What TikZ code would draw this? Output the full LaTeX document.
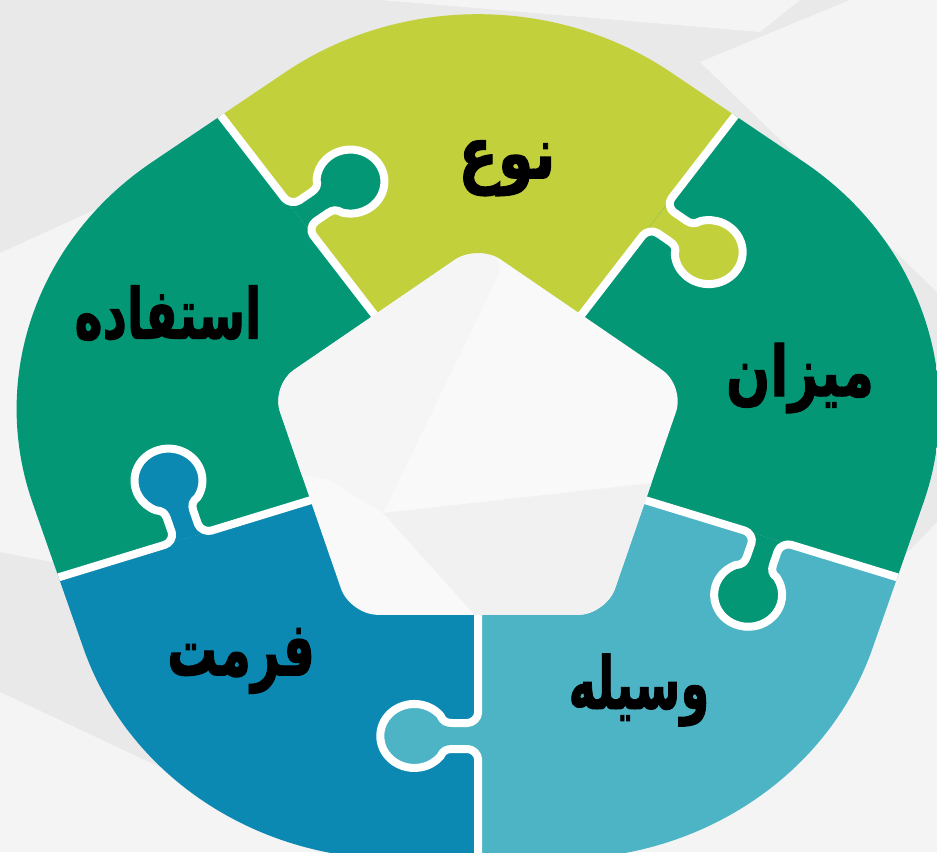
\documentclass[tikz,border=0pt]{standalone}
\usepackage{fontspec}
\newfontfamily\arabicfont[Script=Arabic,FakeBold=1.6]{DejaVu Sans Bold}
\TeXXeTstate=1
\definecolor{cyel}{RGB}{194,208,60}
\definecolor{cgrn}{RGB}{4,151,118}
\definecolor{cblu}{RGB}{12,137,178}
\definecolor{clbl}{RGB}{76,180,197}
\definecolor{bggray}{RGB}{233,233,233}
\definecolor{bglite}{RGB}{244,244,244}
\definecolor{pentA}{RGB}{249,249,249}
\definecolor{pentB}{RGB}{245,245,245}
\definecolor{pentC}{RGB}{241,241,241}
\newcommand{\outerpath}{(413.52,-54.14) arc[start angle=-18,end angle=54,radius=305] -- (179.28,376.55) arc[start angle=54,end angle=126,radius=305] -- (-302.73,286.86) arc[start angle=126,end angle=198,radius=305] -- (-366.37,-199.26) arc[start angle=198,end angle=270,radius=305] -- (76.30,-410.01) arc[start angle=270,end angle=342,radius=305] -- cycle}
% knob: centre (287,-60), radius 32, neck half-width 13
\newcommand{\knobbody}{.. controls (268.5,0) and (274,-4.5) .. (274,-10) -- (274,-24) .. controls (274,-30) and (272.3,-33.1) .. (266.4,-35.5) arc[start angle=130,end angle=410,radius=32] .. controls (301.7,-33.1) and (300,-30) .. (300,-24) -- (300,-10) .. controls (300,-4.5) and (305.5,0) .. (310,0)}
\newcommand{\knobline}{(150,0) -- (264,0) \knobbody -- (470,0)}
\newcommand{\knobfill}{(264,0) \knobbody -- cycle}
\newcommand{\pentpath}{(90:205) -- (162:205) -- (234:205) -- (306:205) -- (18:205) -- cycle}
\tikzset{
  divider/.style={draw=white,line width=8pt,line join=round},
  word/.style={font=\arabicfont\fontsize{50}{60}\selectfont,text=black,inner sep=0pt},
}
\newcommand{\puzzlejoint}[2]{%
  \begin{scope}[rotate=#1]
    \fill[#2] \knobfill;
    \path[divider] \knobline;
  \end{scope}}
\begin{document}
\begin{tikzpicture}[x=1pt,y=1pt]
\useasboundingbox (0,0) rectangle (937,852);
% background
\fill[bggray] (0,0) rectangle (937,852);
\fill[bglite] (0,599) -- (110,649) -- (260,700) -- (260,250) -- (0,300) -- cycle;
\fill[bglite] (0,0) -- (0,160) -- (340,0) -- cycle;
\fill[bglite] (937,0) -- (937,330) -- (620,0) -- cycle;
\fill[bglite] (700,790) -- (850,852) -- (937,852) -- (937,560) -- cycle;
\fill[bglite] (380,852) -- (800,852) -- (760,820) -- cycle;
\begin{scope}[shift={(478,403)},xscale=1.062]
  \begin{scope}
    \clip[xscale=1.014] \outerpath;
    \fill[cyel] (0,0) -- (54:900) -- (126:900) -- cycle;
    \fill[cgrn] (0,0) -- (126:900) -- (198:900) -- cycle;
    \fill[cblu] (0,0) -- (198:900) -- (270:900) -- cycle;
    \fill[clbl] (0,0) -- (270:900) -- (342:900) -- cycle;
    \fill[cgrn] (0,0) -- (342:900) -- (414:900) -- cycle;
    \puzzlejoint{126}{cgrn}
    \puzzlejoint{54}{cyel}
    \puzzlejoint{-18}{cgrn}
    \puzzlejoint{270}{clbl}
    \puzzlejoint{198}{cblu}
  \end{scope}
  % centre pentagon
  \fill[pentA, rounded corners=28pt] \pentpath;
  \begin{scope}
    \clip[rounded corners=28pt] \pentpath;
    \fill[pentB] (20.7,177) -- (-89.5,-64) -- (-139.4,-31) -- (-300,0) -- (-300,300) -- (0,300) -- cycle;
    \fill[pentC] (-89.5,-64) -- (163.8,-34) -- (300,-34) -- (300,-300) -- (-4.7,-300) -- (-4.7,-164) -- cycle;
  \end{scope}
\end{scope}
% labels
\node[word] (noe) at (507,684) {\scalebox{1.15}[1.45]{\beginR نوع\endR}};
\node[word] (estefade) at (168,539) {\scalebox{0.95}[1.4]{\beginR استفاده\endR}};
\node[word] (mizan) at (800,474) {\scalebox{1.04}[1.4]{\beginR میزان\endR}};
\node[word] (format) at (241,191) {\scalebox{1.0}[1.5]{\beginR فرمت\endR}};
\node[word] (vasile) at (639,162) {\scalebox{0.93}[1.45]{\beginR وسیله\endR}};
\end{tikzpicture}
\end{document}
